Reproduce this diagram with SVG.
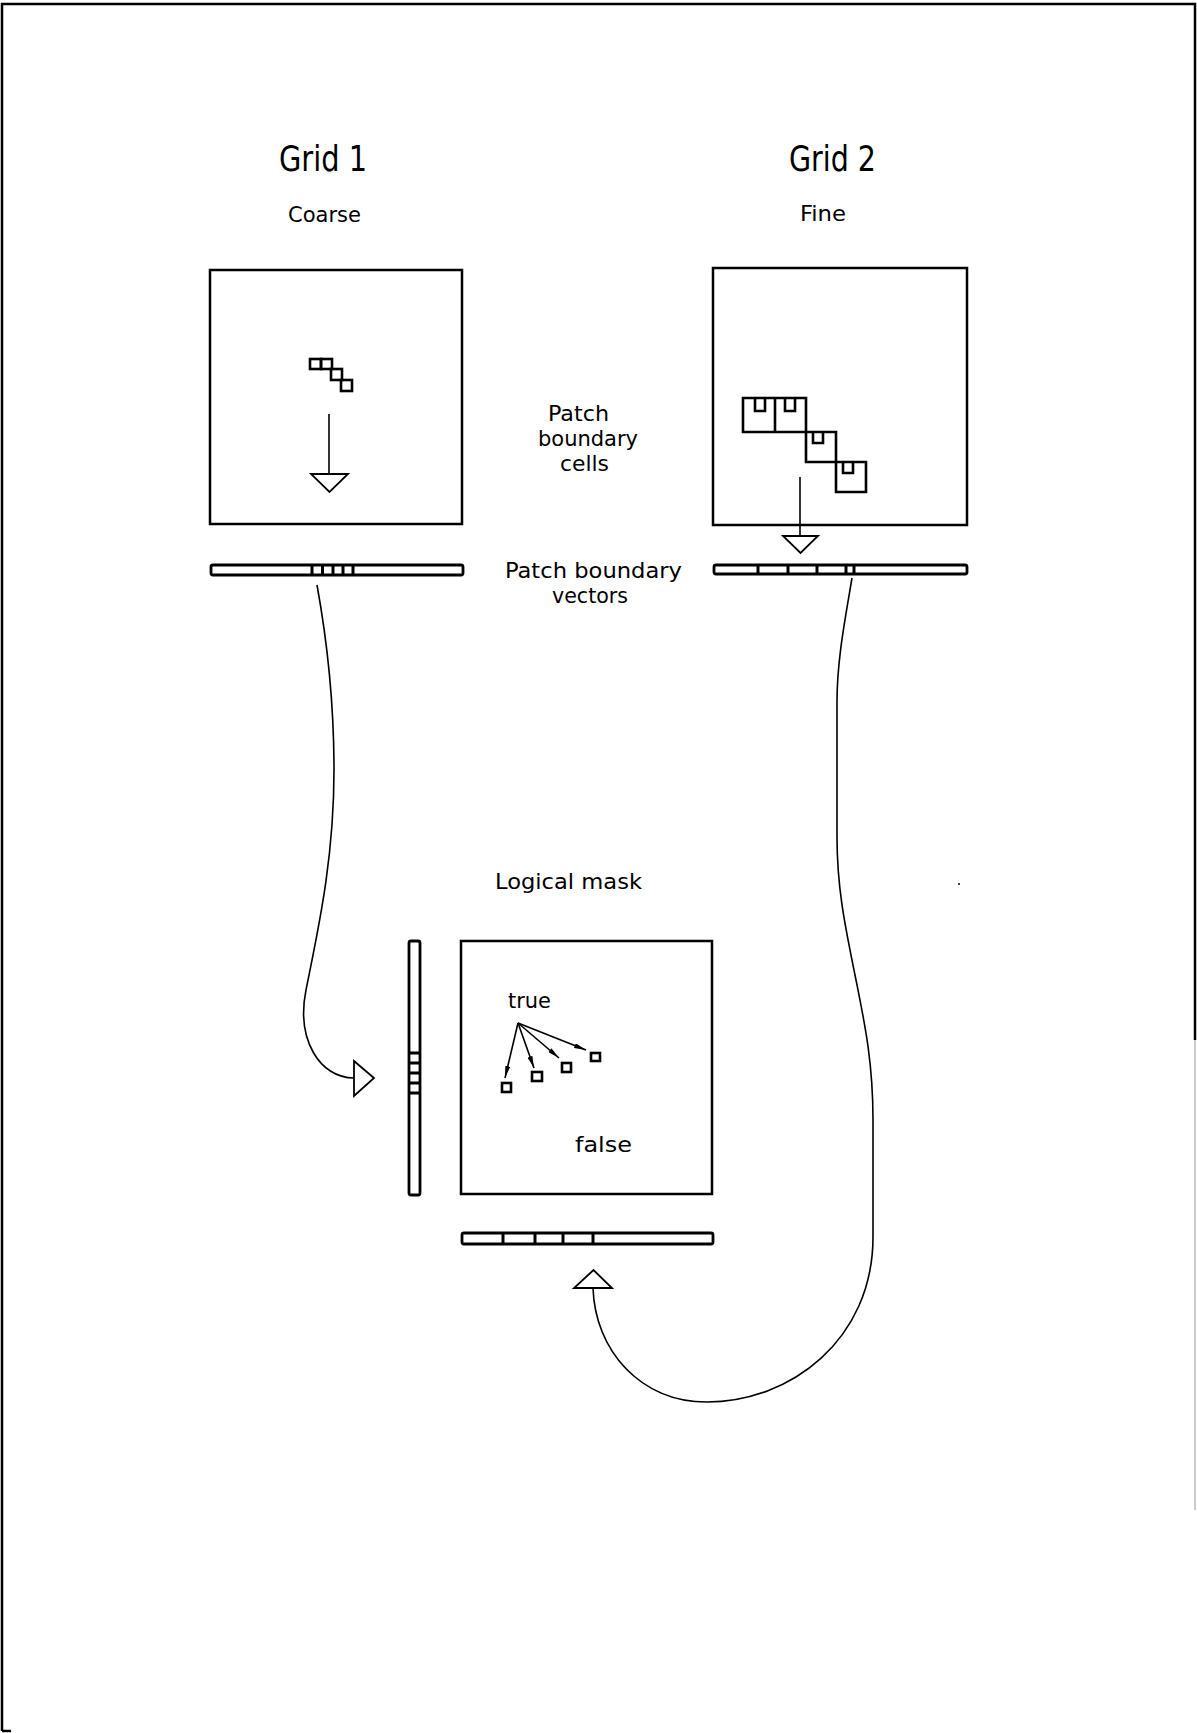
<svg xmlns="http://www.w3.org/2000/svg" width="1197" height="1733" viewBox="0 0 1197 1733">
<style>
.box{fill:none;stroke:#000;stroke-width:2.5}
.thin{fill:none;stroke:#000;stroke-width:1.6}
.bar{fill:#fff;stroke:#000;stroke-width:2.8}
.div{stroke:#000;stroke-width:3}
.cell{fill:none;stroke:#000;stroke-width:2.6}
.tri{fill:#fff;stroke:#000;stroke-width:1.8;stroke-linejoin:miter}
text{font-family:"DejaVu Sans Condensed","DejaVu Sans","Liberation Sans",sans-serif;fill:#000}
.t1{font-size:36px}
.t2{font-size:22px}
</style>
<defs>
<marker id="ah" viewBox="0 0 12 5" refX="12" refY="2.5" markerWidth="12" markerHeight="5" markerUnits="userSpaceOnUse" orient="auto">
<path d="M0,0 L12,2.5 L0,5 z" fill="#000"/>
</marker>
</defs>
<rect width="1197" height="1733" fill="#fff"/>
<g id="frame">
<path d="M2 1731 V4 H1195 V1040" class="box" stroke-width="2"/>
<path d="M1195 1040 V1510" fill="none" stroke="#bbb" stroke-width="1.5"/>
<path d="M2 1731 H11" class="box" stroke-width="2"/>
</g>
<g id="labels">
<text class="t1" x="279" y="171" textLength="88" lengthAdjust="spacingAndGlyphs">Grid 1</text>
<text class="t1" x="789" y="171" textLength="87" lengthAdjust="spacingAndGlyphs">Grid 2</text>
<text class="t2" x="288" y="222" textLength="73" lengthAdjust="spacingAndGlyphs">Coarse</text>
<text class="t2" x="800" y="221" textLength="46" lengthAdjust="spacingAndGlyphs">Fine</text>
<text class="t2" x="548" y="421" textLength="61" lengthAdjust="spacingAndGlyphs">Patch</text>
<text class="t2" x="538" y="446" textLength="100" lengthAdjust="spacingAndGlyphs">boundary</text>
<text class="t2" x="560" y="471" textLength="49" lengthAdjust="spacingAndGlyphs">cells</text>
<text class="t2" x="505" y="578" textLength="177" lengthAdjust="spacingAndGlyphs">Patch boundary</text>
<text class="t2" x="552" y="603" textLength="76" lengthAdjust="spacingAndGlyphs">vectors</text>
<text class="t2" x="495" y="889" textLength="147" lengthAdjust="spacingAndGlyphs">Logical mask</text>
</g>
<g id="grid1">
<rect class="box" x="210" y="270" width="252" height="254"/>
<g stroke-width="3">
<rect class="cell" x="310" y="359" width="11" height="10" stroke-width="3"/>
<rect class="cell" x="321" y="359" width="11" height="10" stroke-width="3"/>
<rect class="cell" x="331" y="369" width="11" height="11" stroke-width="3"/>
<rect class="cell" x="341" y="380" width="11" height="11" stroke-width="3"/>
</g>
<line class="thin" x1="329" y1="414" x2="329" y2="474"/>
<path class="tri" d="M311 474 H348 L329.5 492 Z"/>
</g>
<g id="grid1-vector">
<rect class="bar" x="211" y="565" width="252" height="10" rx="2"/>
<path class="div" d="M312 565V575 M322.5 565V575 M333 565V575 M343 565V575 M353 565V575"/>
</g>
<g id="grid2">
<rect class="box" x="713" y="268" width="254" height="257"/>
<path class="cell" d="M743 398 H806 V432 H836 V462 H866 V492 H836 V462 H806 V432 H743 Z M775 398 V432"/>
<path class="cell" d="M755 399 V411 H765 V399 M785 399 V411 H795 V399 M813 433 V443 H823 V433 M843 463 V473 H853 V463"/>
<line class="thin" x1="800" y1="477" x2="800" y2="536"/>
<path class="tri" d="M783 536 H818 L800.5 553 Z"/>
</g>
<g id="grid2-vector">
<rect class="bar" x="714" y="565" width="253" height="9" rx="2"/>
<path class="div" d="M758 565V574 M788 565V574 M817 565V574 M846 565V574 M854 565V574"/>
</g>
<g id="mask">
<rect class="box" x="461" y="941" width="251" height="253"/>
<text class="t2" x="508" y="1008" textLength="43" lengthAdjust="spacingAndGlyphs">true</text>
<text class="t2" x="575" y="1152" textLength="57" lengthAdjust="spacingAndGlyphs">false</text>
<g stroke="#000" stroke-width="1.6" marker-end="url(#ah)">
<line x1="518" y1="1023" x2="505" y2="1078"/>
<line x1="518" y1="1023" x2="534" y2="1068"/>
<line x1="518" y1="1023" x2="559" y2="1058"/>
<line x1="518" y1="1023" x2="586" y2="1050"/>
</g>
<rect class="cell" x="502" y="1083" width="9" height="9" stroke-width="3"/>
<rect class="cell" x="532" y="1072" width="10" height="9" stroke-width="3"/>
<rect class="cell" x="562" y="1063" width="9" height="9" stroke-width="3"/>
<rect class="cell" x="591" y="1053" width="9" height="8" stroke-width="3"/>
</g>
<g id="mask-vector-left">
<rect class="bar" x="409" y="941" width="11" height="254" rx="2"/>
<path class="div" d="M409 1053H420 M409 1063H420 M409 1073H420 M409 1083H420 M409 1093H420"/>
</g>
<g id="mask-vector-bottom">
<rect class="bar" x="462" y="1233" width="251" height="11" rx="2"/>
<path class="div" d="M503 1233V1244 M535 1233V1244 M563 1233V1244 M593 1233V1244"/>
</g>
<g id="connectors">
<path class="thin" d="M317 585 C327 640 334 700 334 770 C334 860 318 930 306 990 C296 1040 320 1078 354 1078"/>
<path class="tri" d="M354 1061 V1096 L374 1078 Z"/>
<path class="thin" d="M852 578 C845 620 837 660 837 702 L837 837 C837 890 846 930 855 975 C864 1020 873 1060 873 1120 L873 1237 C873 1340 790 1402 707 1402 C640 1402 595 1350 593 1288"/>
<path class="tri" d="M574 1288 H612 L593.5 1270 Z"/>
</g>
<circle cx="959" cy="884" r="1" fill="#000"/>
</svg>
